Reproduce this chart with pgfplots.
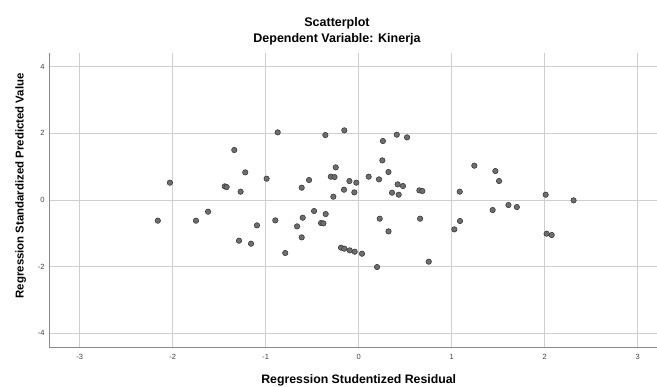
\documentclass[border=0pt]{standalone}
\usepackage{pgfplots}
\pgfplotsset{compat=1.18}
\usepackage{fontspec}
\setmainfont{Liberation Sans}
\definecolor{gridc}{HTML}{CFCFCF}
\definecolor{axc}{HTML}{8A8A8A}
\definecolor{mfill}{HTML}{6E6E6E}
\definecolor{medge}{HTML}{3A3A3A}
\begin{document}
\begin{tikzpicture}[x=1pt,y=1pt]
\useasboundingbox (0,0) rectangle (657,-387);
\begin{axis}[
  at={(49pt,-347.7pt)}, anchor=south west,
  scale only axis, width=608pt, height=295pt,
  xmin=-3.33, xmax=3.207, ymin=-4.43, ymax=4.42,
  xtick={-3,-2,-1,0,1,2,3}, ytick={-4,-2,0,2,4},
  grid=major, major grid style={draw=gridc, line width=0.8pt},
  axis x line*=bottom, axis y line*=left,
  axis line style={draw=axc, line width=0.9pt, -},
  major tick length=0pt,
  /pgf/number format/assume math mode=true,
  tick label style={font=\fontsize{7.5}{9}\selectfont, text=black!75},
  xticklabel style={yshift=-3pt},
  yticklabel style={xshift=-1pt},
  clip=false,
]
\addplot[only marks, mark=*, mark size=2.7pt, mark options={fill=mfill, draw=medge, line width=0.6pt}] coordinates {
(-0.871,2.03) (-1.338,1.50) (-1.22,0.83) (-0.99,0.64) (-2.03,0.52)
(-1.44,0.41) (-1.42,0.39) (-1.27,0.25) (-1.62,-0.35) (-2.16,-0.62)
(-1.75,-0.62) (-0.897,-0.61) (-1.094,-0.76) (-1.287,-1.22) (-1.158,-1.31)
(-0.79,-1.59) (-0.359,1.95) (-0.155,2.09) (0.409,1.96) (0.52,1.88)
(0.26,1.77) (0.254,1.19) (-0.247,0.98) (0.32,0.84) (-0.30,0.70)
(-0.26,0.69) (-0.534,0.60) (0.107,0.70) (0.218,0.62) (-0.10,0.57)
(-0.026,0.52) (-0.613,0.37) (-0.158,0.31) (-0.047,0.23) (0.419,0.47)
(0.476,0.42) (0.358,0.22) (0.43,0.16) (0.652,0.29) (0.684,0.27)
(-0.273,0.10) (-0.48,-0.33) (-0.602,-0.53) (-0.355,-0.42) (-0.405,-0.69)
(-0.38,-0.70) (-0.663,-0.79) (-0.613,-1.12) (0.226,-0.56) (0.66,-0.56)
(0.32,-0.94) (-0.19,-1.43) (-0.155,-1.46) (-0.097,-1.51) (-0.043,-1.55)
(0.035,-1.61) (0.197,-2.01) (0.753,-1.85) (1.243,1.03) (1.469,0.87)
(1.509,0.57) (1.086,0.25) (2.01,0.16) (2.31,-0.01) (1.44,-0.30)
(1.61,-0.15) (1.70,-0.21) (1.089,-0.63) (1.028,-0.88) (2.02,-1.01)
(2.075,-1.05)
};
\end{axis}
\node[font=\bfseries\fontsize{12.5}{14}\selectfont, anchor=base] at (337,-27) {Scatterplot};
\node[font=\bfseries\fontsize{12.5}{14}\selectfont, anchor=base] at (337,-43) {Dependent Variable: Kinerja};
\node[font=\bfseries\fontsize{12.3}{14}\selectfont, anchor=base] at (358.7,-384) {Regression Studentized Residual};
\node[font=\bfseries\fontsize{11.4}{13}\selectfont, rotate=90, anchor=base] at (23.5,-185.8) {Regression Standardized Predicted Value};
\end{tikzpicture}
\end{document}
